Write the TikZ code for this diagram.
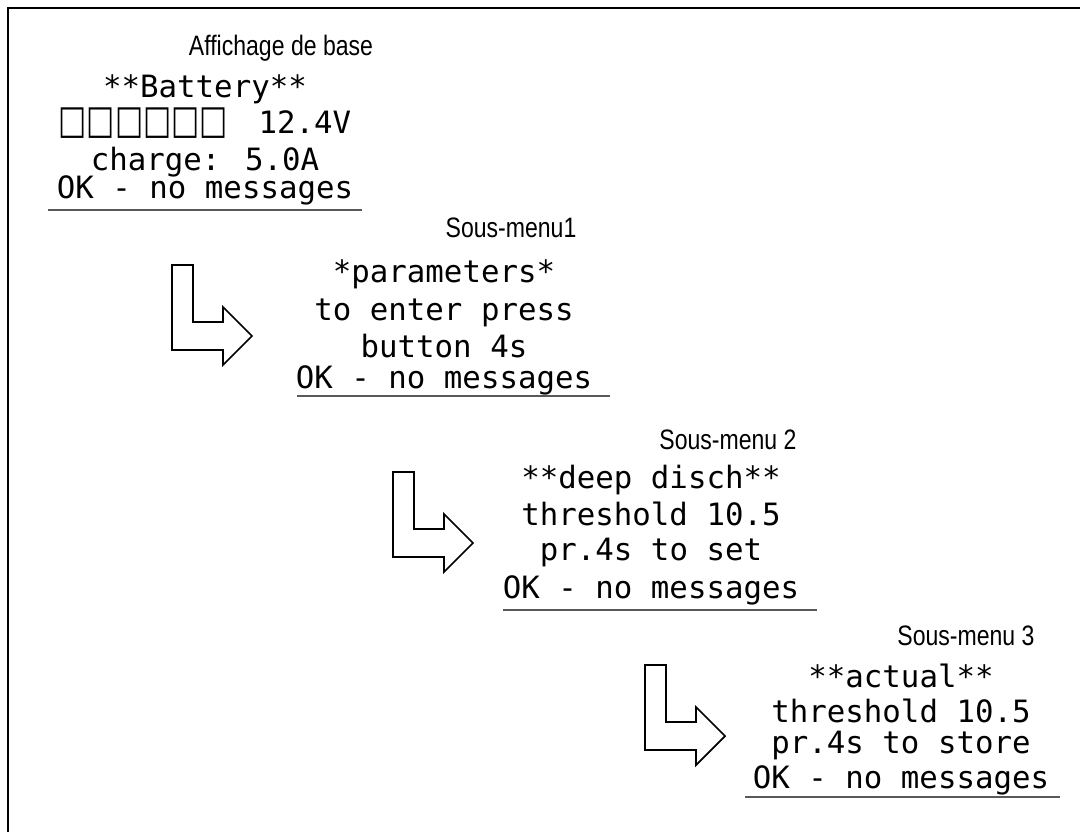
\documentclass[tikz,border=0pt]{standalone}
\usepackage{fontspec}
\setmainfont{Liberation Sans}
\newfontfamily\lcdfont{DejaVu Sans Mono}
\newfontfamily\symfont{DejaVu Sans}
\newcommand{\lcd}{\lcdfont\fontsize{17.5}{20}\selectfont}
\newcommand{\lbl}[1]{\scalebox{0.82}[1]{\fontsize{16}{19}\selectfont #1}}

\begin{document}
\begin{tikzpicture}[x=0.02cm, y=-0.02cm,
    lcd/.style={anchor=base, inner sep=0pt, font=\lcd},
    title/.style={anchor=base, inner sep=0pt},
    underline/.style={black!65, line width=1pt},
    menuarrow/.style={line width=1pt, line join=miter}]
  \useasboundingbox (0,0) rectangle (1080,832);

  % draw frame
  \draw[line width=1.3pt] (8,832) -- (8,8) -- (1080,8);

  % draw base display
  \node[title] (base) at (281,55) {\lbl{Affichage de base}};
  \node[lcd] (bat1) at (205,97) {**Battery**};
  \node[lcd] (bat2) at (205,133) {\scalebox{0.97}[1.3]{\symfont □□□□□□}~\hspace{7pt}12.4V};
  \node[lcd] (bat3) at (205,170) {charge: 5.0A};
  \node[lcd] (bat4) at (205,198) {OK - no messages};
  \draw[underline] (48,210) -- (362,210);

  % draw sub-menu 1
  \node[title] (sub1) at (511,237) {\lbl{Sous-menu1}};
  \node[lcd] (par1) at (444,282) {*parameters*};
  \node[lcd] (par2) at (444,320) {to enter press};
  \node[lcd] (par3) at (444,357) {button 4s};
  \node[lcd] (par4) at (444,388) {OK - no messages};
  \draw[underline] (297,396) -- (610,396);

  % draw sub-menu 2
  \node[title] (sub2) at (728,449) {\lbl{Sous-menu 2}};
  \node[lcd] (deep1) at (651,488) {**deep disch**};
  \node[lcd] (deep2) at (651,525) {threshold 10.5};
  \node[lcd] (deep3) at (651,560) {pr.4s to set};
  \node[lcd] (deep4) at (651,598) {OK - no messages};
  \draw[underline] (503,610) -- (817,610);

  % draw sub-menu 3
  \node[title] (sub3) at (966,645) {\lbl{Sous-menu 3}};
  \node[lcd] (act1) at (901,687) {**actual**};
  \node[lcd] (act2) at (901,722) {threshold 10.5};
  \node[lcd] (act3) at (901,753) {pr.4s to store};
  \node[lcd] (act4) at (901,788) {OK - no messages};
  \draw[underline] (745,797) -- (1060,797);

  % draw arrows
  \foreach \x/\y in {172/350, 393/557, 645/750}
    \draw[menuarrow] (\x,\y) -- ++(0,-85) -- ++(21,0) -- ++(0,57) -- ++(30,0)
      -- ++(0,-15) -- ++(29,29) -- ++(-29,29) -- ++(0,-15) -- cycle;
\end{tikzpicture}
\end{document}
